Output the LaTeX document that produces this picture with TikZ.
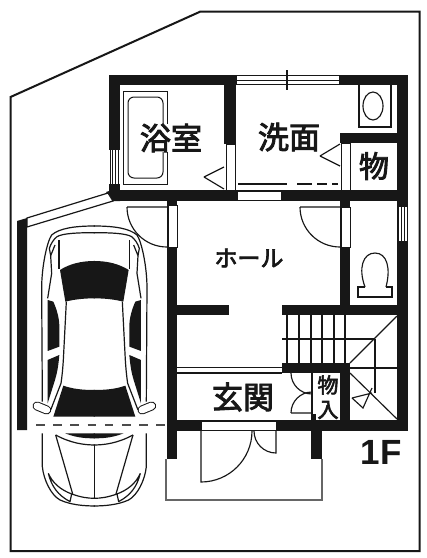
\documentclass[tikz,border=0pt]{standalone}
\usepackage{fontspec}
\newfontfamily\cjk[FakeBold=3]{Noto Sans CJK JP}
\newfontfamily\lat{Liberation Sans}
\definecolor{wallc}{gray}{0.09}
\tikzset{
  wall/.style={fill=wallc,draw=none},
  lot/.style={draw=wallc,line width=2pt,line join=miter},
  thin line/.style={draw=wallc,line width=1.15pt},
  fine/.style={draw=wallc,line width=.8pt},
  opening/.style={fill=white,draw=wallc,line width=.8pt},
  label/.style={inner sep=0pt,fill=white,text=wallc},
  porch/.style={draw=black!60,line width=1.3pt},
  carline/.style={draw=wallc,line width=1.2pt,line join=round},
  carblack/.style={fill=wallc,draw=none},
}
\newcommand{\carhalf}{%
  \draw[carline] (-2,108) -- (0,108) .. controls (60,108) and (105,115) .. (128,135) .. controls (142,155) and (158,230) .. (158,294) -- (156,635);
  \draw[carline] (156,730) -- (156,830) .. controls (152,870) and (130,915) .. (103,930) .. controls (70,945) and (30,948) .. (-2,948);
  \draw[carline] (-2,128) -- (0,128) .. controls (50,128) and (95,130) .. (112,140) .. controls (122,148) and (130,160) .. (135,175) -- (131,197) -- (118,165);
  \draw[carline] (106,150) -- (106,238);
  \draw[carline] (131,197) -- (128,250) -- (140,325);
  \fill[carblack] (-2,213) -- (0,213) .. controls (40,213) and (75,222) .. (103,240) -- (87,335) .. controls (60,328) and (30,325) .. (-2,325) -- cycle;
  \fill[carblack] (140,330) -- (123,335) .. controls (112,360) and (105,385) .. (105,410) -- (105,470) -- (140,483) -- cycle;
  \fill[carblack] (140,510) -- (105,495) .. controls (108,530) and (112,550) .. (118,570) -- (140,640) -- cycle;
  \draw[carline] (84,335) -- (93,510) .. controls (95,540) and (97,560) .. (100,580) -- (131,660);
  \fill[carblack] (-2,600) -- (0,600) .. controls (35,600) and (65,597) .. (93,587) -- (123,680) -- (-2,680) -- cycle;
  \fill[carblack] (88,730) .. controls (50,745) and (20,745) .. (-2,745) -- (-2,730) -- cycle;
  \draw[carline] (116,735) .. controls (70,760) and (30,765) .. (-2,765);
  \draw[carline] (116,735) -- (65,912);
  \draw[carline] (68,912) .. controls (40,922) and (20,925) .. (-2,925);
  \draw[carline] (138,850) .. controls (128,890) and (110,915) .. (73,935) -- (68,912) .. controls (100,900) and (125,880) .. (138,850);
  \draw[line width=9pt,line cap=round,draw=wallc] (172,648) -- (143,660);
  \draw[line width=7pt,line cap=round,draw=white] (172,648) -- (143,660);
}
\begin{document}
\begin{tikzpicture}[x=1pt,y=-1pt]
\useasboundingbox (0,0) rectangle (427,558);
\fill[white] (0,0) rectangle (427,558);
% lot
\draw[lot] (10.5,97) -- (200.5,11.5) -- (419.5,11.5) -- (419.5,551) -- (10.5,551) -- cycle;

% bathtub, basin
\draw[fine,line width=1pt] (123,91) rectangle (167,184);
\draw[fine,line width=1pt,rounded corners=6pt] (128,97) rectangle (163,178);
\draw[thin line] (359,85) -- (359,127) -- (391,127) -- (391,85);
\draw[thin line] (373,106) ellipse [x radius=10,y radius=14];

% outer walls
\fill[wall] (109,75) rectangle (237,85);
\fill[wall] (339,75) rectangle (408,85);
\fill[wall] (397,75) rectangle (408,431);
\fill[wall] (109,75) rectangle (120,150);
\fill[wall] (224,75) rectangle (236,144);
\fill[wall] (340,133) rectangle (397,143);
\fill[wall] (109,190) rectangle (408,201);
\fill[wall] (109,184) rectangle (120,201);
\fill[wall] (167,190) rectangle (177,459);
\fill[wall] (167,420) rectangle (408,431);
\fill[wall] (311,420) rectangle (322,459);
\fill[wall] (340,190) rectangle (350,305);
\fill[wall] (177,305) rectangle (229,315);
\fill[wall] (282,305) rectangle (397,315);
\fill[wall] (282,363) rectangle (350,373);
\fill[wall] (340,363) rectangle (350,431);
\fill[wall] (312,414) rectangle (316,421);
\fill[wall] (17,221) -- (27,218) -- (27,430) -- (17,430) -- cycle;
\fill[wall] (106,192) -- (112,190) -- (120,192) -- (120,201) -- (113,201) -- cycle;

% windows and openings
\fill[white] (237,75) rectangle (339,85);
\draw[fine,line width=1pt] (237,75.5) -- (339,75.5) (237,80.5) -- (339,80.5) (237,84.5) -- (339,84.5);
\draw[thin line] (287,70) -- (287,90);
\fill[white] (110,150) rectangle (118.5,184);
\draw[fine] (110,150) -- (110,184) (112.8,150) -- (112.8,184) (115.7,150) -- (115.7,184) (118.5,150) -- (118.5,184);
\fill[white] (398,207) rectangle (407,241);
\draw[fine] (398,207) -- (398,241) (401,207) -- (401,241) (404,207) -- (404,241) (407,207) -- (407,241);
\draw[opening] (237,191) rectangle (281,200);
\draw[opening] (226,144) rectangle (235,190);
\draw[opening] (341,143) rectangle (350,190);
\draw[opening] (168,205) rectangle (177,247);
\draw[opening] (341,207) rectangle (350,247);
\draw[opening] (201,421) rectangle (276,430);
% garage window
\draw[fill=white,draw=wallc,line width=1.2pt] (27,218) -- (108,193) -- (113,201) -- (27,227) -- cycle;

% door swings
\draw[thin line] (204,177) -- (224,167) (204,177) -- (224,189);
\draw[thin line] (320,156) -- (340,144) (320,156) -- (340,166);
\draw[thin line] (127,207) -- (167,207) (127,207) arc[start angle=180,end angle=90,radius=40];
\draw[thin line] (300,207) -- (340,207) (300,207) arc[start angle=180,end angle=90,radius=40];
\draw[thin line] (201,431) -- (201,482) arc[start angle=90,end angle=0,radius=51];
\draw[thin line] (276,431) -- (276,453) arc[start angle=90,end angle=180,radius=22];
\draw[thin line] (312,373) -- (312,420);
\draw[thin line] (291,373) arc[start angle=180,end angle=90,radius=21];
\draw[thin line] (291,413) -- (312,413) (291,413) arc[start angle=180,end angle=270,radius=21];

% dashed line
\draw[draw=wallc,line width=1.2pt] (238,184) -- (287,184) (297,184) -- (312,184) (317,184) -- (327,184) (332,184) -- (338,184);

% toilet
\draw[thin line] (365,287) .. controls (358,268) and (363,253) .. (375,253) .. controls (387,253) and (391,268) .. (386,287);
\draw[thin line] (365,287) -- (358,287) -- (358,297) -- (392,297) -- (392,287) -- (386,287);

% stairs
\foreach \sx in {287,299,311,322,334} \draw[thin line] (\sx,315) -- (\sx,363);
\draw[draw=wallc,line width=1.4pt] (345,315) -- (345,363);
\draw[thin line] (282,339) -- (375,339);
\draw[thin line] (375,339) -- (375,393);
\draw[thin line] (350,363) -- (397,316);
\draw[thin line] (350,368) -- (397,368);
\draw[thin line] (350,373) -- (397,419);
\draw[thin line] (352,398) -- (372,393) (352,398) -- (363,408) -- (372,388);
% entry strip
\draw[thin line] (177,367.5) -- (282,367.5) (177,373) -- (282,373);

% porch
\draw[porch] (166,459) -- (166,500) -- (322,500) -- (322,459);

% car
\begin{scope}[shift={(94.33,190)},x=-0.3333pt,y=-0.3333pt]\carhalf\end{scope}
\begin{scope}[shift={(94.33,190)},x=0.3333pt,y=-0.3333pt]\carhalf\end{scope}
\draw[draw=wallc,line width=1pt] (94.33,445) -- (94.33,498);
\draw[draw=black!70,line width=1.2pt,dash pattern=on 8.5pt off 8.7pt] (36,425) -- (167,425);

% labels
\node[label,font=\cjk\fontsize{31}{31}\selectfont] (bath) at (171,138) {浴室};
\node[label,font=\cjk\fontsize{31}{31}\selectfont] (wash) at (289,137) {洗面};
\node[label,font=\cjk\fontsize{30}{30}\selectfont] (stor) at (374,166) {物};
\node[label,font=\cjk\fontsize{23}{23}\selectfont] (hall) at (249,258) {ホール};
\node[label,font=\cjk\fontsize{31}{31}\selectfont] (entr) at (243,397) {玄関};
\node[label,font=\cjk\fontsize{21}{21}\selectfont] (clo1) at (328,385) {物};
\node[label,font=\cjk\fontsize{21}{21}\selectfont] (clo2) at (328,410) {入};
\node[label,font=\lat\bfseries\fontsize{35}{35}\selectfont] (floor) at (381,452) {1F};
\end{tikzpicture}
\end{document}
